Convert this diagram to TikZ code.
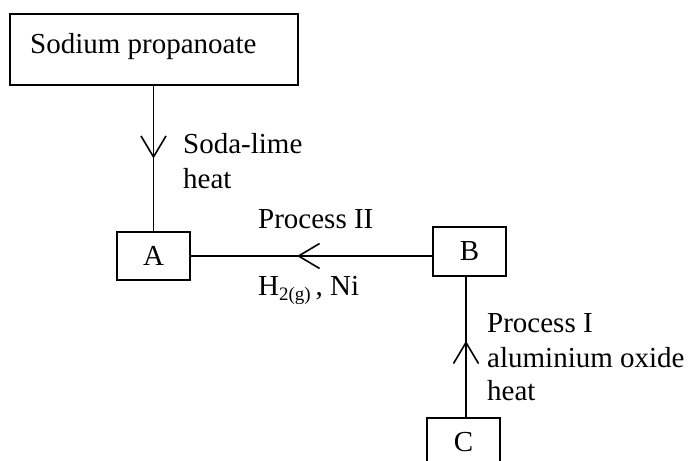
\documentclass[tikz,border=0pt]{standalone}
\usepackage{fontspec}
\setmainfont{Liberation Serif}
\usetikzlibrary{arrows.meta,decorations.markings}
\begin{document}
\begin{tikzpicture}[x=1pt,y=-1pt,
  every node/.style={font=\fontsize{29}{34}\selectfont},
  box/.style={draw,line width=1.6pt,inner sep=0pt},
  lbl/.style={anchor=base west,inner sep=0pt},
  conn/.style={line width=1.6pt,postaction={decorate},
    decoration={markings,mark=at position #1 with {\arrow{Straight Barb[length=21pt,width=25pt,line width=1.6pt]}}}}
]
\useasboundingbox (0,0) rectangle (689,461);
\clip (0,0) rectangle (689,461);
\node[box,minimum width=288pt,minimum height=71pt] (S) at (154,49.5) {};
\node[lbl] (St) at (30,53) {Sodium propanoate};
\node[box,minimum width=73pt,minimum height=48pt] (A) at (153.5,256) {A};
\node[box,minimum width=73pt,minimum height=49pt] (B) at (469.5,251.5) {B};
\node[box,minimum width=73pt,minimum height=48pt] (C) at (463.5,442) {C};
% labels
\node[lbl] (l1) at (183,153) {Soda-lime};
\node[lbl] (l2) at (183,188) {heat};
\node[lbl] (l3) at (258,228) {Process II};
\node[lbl] (l4) at (258,295) {H\raisebox{-5pt}{\fontsize{19}{19}\selectfont 2(g)}\,, Ni};
\node[lbl] (l5) at (487,332) {Process I};
\node[lbl] (l6) at (487,367) {aluminium oxide};
\node[lbl] (l7) at (487,400) {heat};
% connectors
\draw[conn=0.5] (A.north |- S.south) -- (A.north);
\draw[conn=0.56] (B.west |- A.east) -- (A.east);
\draw[conn=0.54] (C.north -| 466,0) -- (466,276);
\end{tikzpicture}
\end{document}
